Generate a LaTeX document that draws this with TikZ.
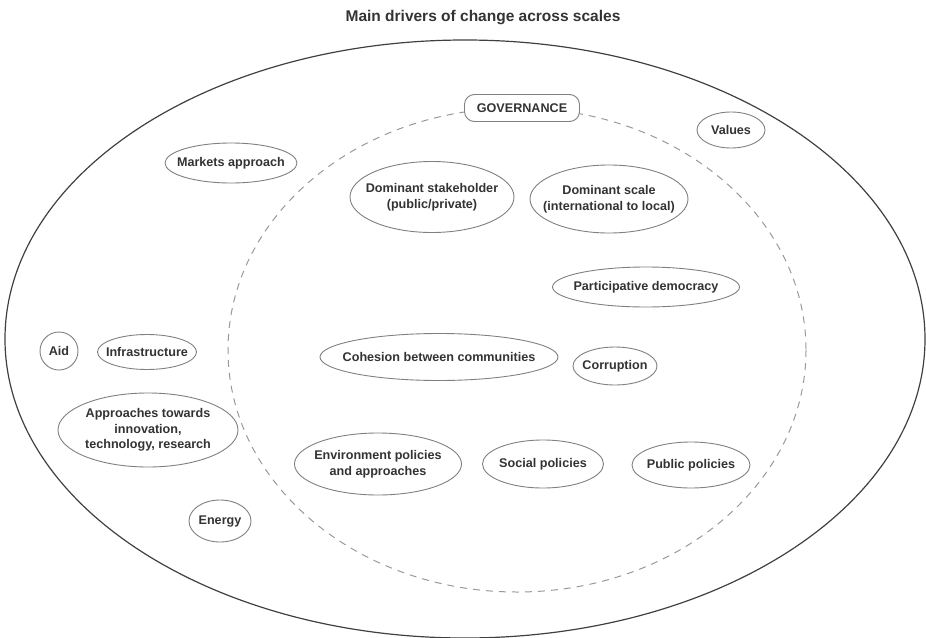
\documentclass[tikz,border=0pt]{standalone}
\usepackage{fontspec}
\setmainfont{Liberation Sans}
\usetikzlibrary{shapes.geometric}
\begin{document}
\begin{tikzpicture}[x=1pt,y=-1pt,
  lbl/.style={font=\fontsize{12.6}{15.5}\selectfont\bfseries, text=black!80, align=center, inner sep=0pt},
  oval/.style={ellipse, draw=black!50, fill=white, line width=0.9pt, inner sep=0pt, minimum width=#1},
  txt/.style={label={[lbl]center:#1}},
]
\useasboundingbox (0,0) rectangle (926,637);
\node[lbl, font=\fontsize{15.5}{18}\selectfont\bfseries] (title) at (483,18) {Main drivers of change across scales};
\draw[black!75, line width=1.2pt] (465,339) ellipse [x radius=460, y radius=299];
\draw[black!40, dash pattern=on 7pt off 6pt, line width=1pt] (517,350) ellipse [x radius=289, y radius=242];
\node[lbl, draw=black!50, fill=white, rounded corners=10pt, line width=0.9pt, minimum width=115, minimum height=27] (gov) at (522,108) {GOVERNANCE};
\node[oval=68, minimum height=36, txt={Values}] (values) at (731,130) {};
\node[oval=132, minimum height=40, txt={Markets approach}] (markets) at (231,163) {};
\node[oval=164, minimum height=71, txt={Dominant stakeholder\\(public/private)}] (stake) at (432,197) {};
\node[oval=158, minimum height=68, txt={Dominant scale\\(international to local)}] (scale) at (609,199) {};
\node[oval=187, minimum height=40, txt={Participative democracy}] (partic) at (646,287) {};
\node[oval=38, minimum height=38, txt={Aid}] (aid) at (59,351) {};
\node[oval=99, minimum height=35, txt={Infrastructure}] (infra) at (147,352) {};
\node[oval=238, minimum height=47, txt={Cohesion between communities}] (cohesion) at (439,357) {};
\node[oval=84, minimum height=38, txt={Corruption}] (corrupt) at (615,366) {};
\node[oval=180, minimum height=74, txt={Approaches towards\\innovation,\\technology, research}] (innov) at (148,430) {};
\node[oval=167, minimum height=62, txt={Environment policies\\and approaches}] (env) at (378,464) {};
\node[oval=121, minimum height=48, txt={Social policies}] (social) at (543,464) {};
\node[oval=118, minimum height=46, txt={Public policies}] (public) at (691,465) {};
\node[oval=62, minimum height=42, txt={Energy}] (energy) at (220,521) {};
\end{tikzpicture}
\end{document}
